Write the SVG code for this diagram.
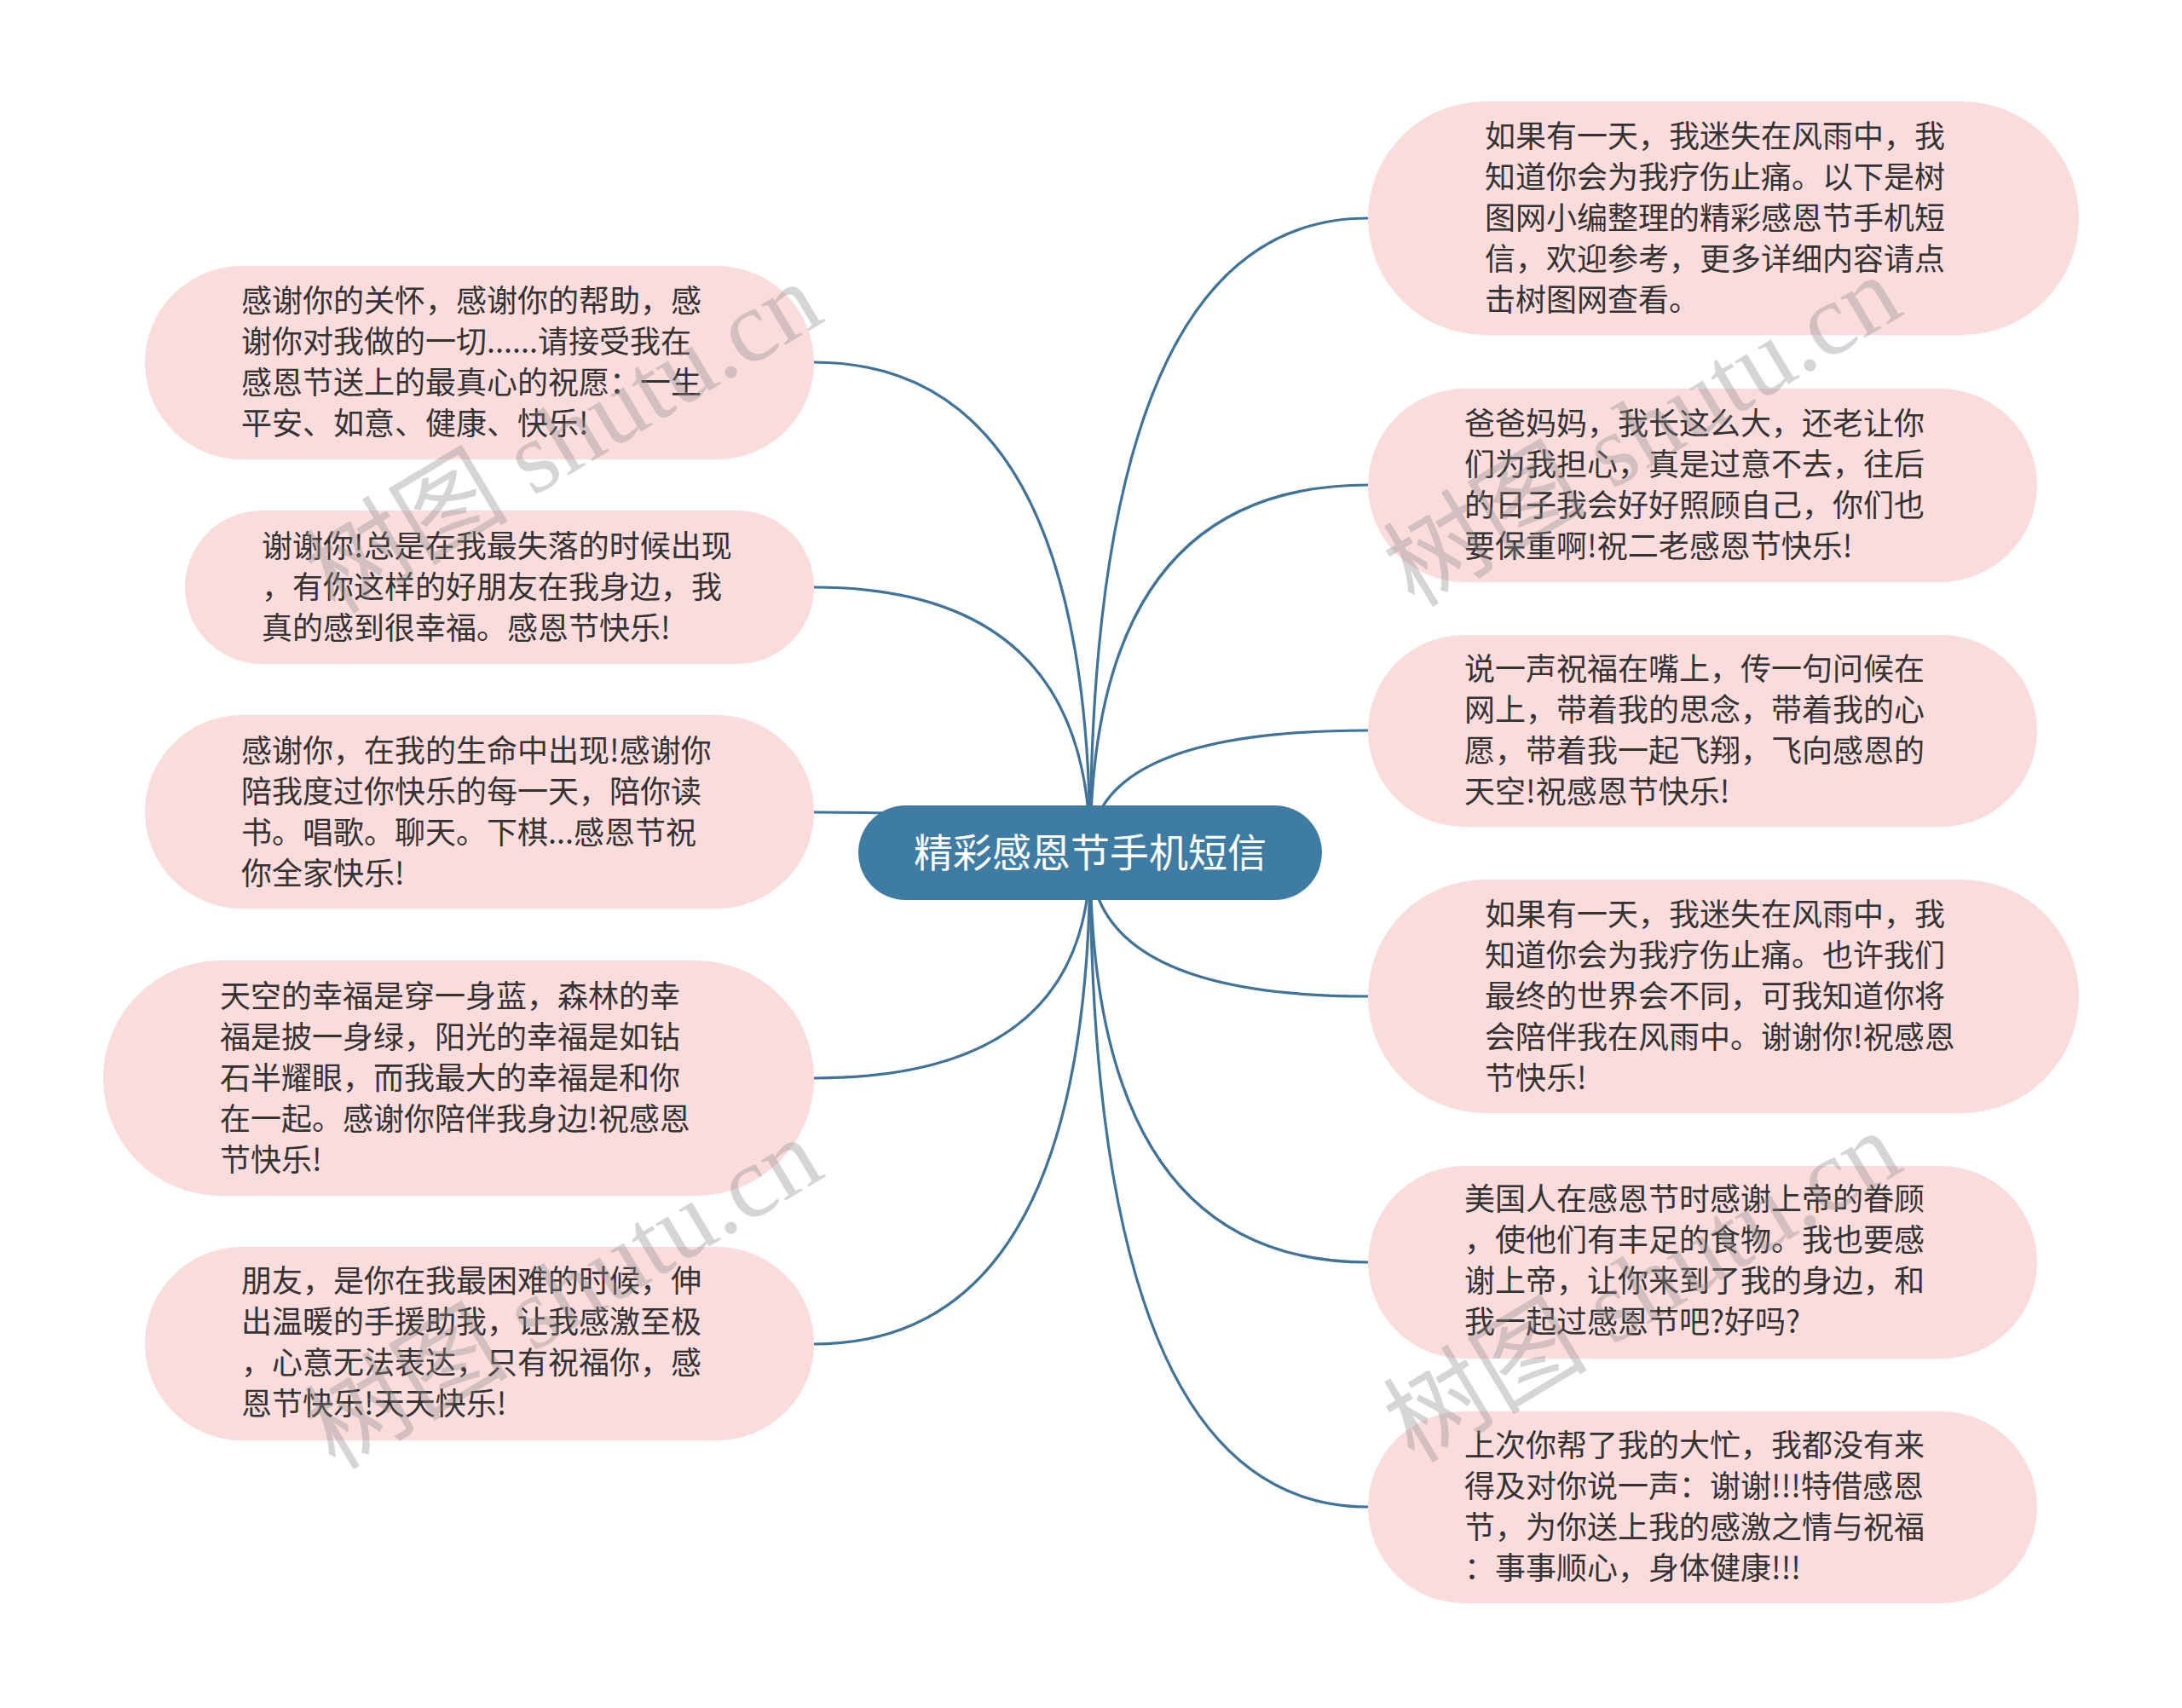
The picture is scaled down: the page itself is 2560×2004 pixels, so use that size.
<svg xmlns="http://www.w3.org/2000/svg" width="2560" height="2004" viewBox="0 0 2560 2004">
<style>
.bg{fill:#ffffff}
.node{fill:#fbdcdc}
.root{fill:#3f7ca3}
.t{font-family:"Noto Sans CJK SC","Noto Sans",sans-serif;font-size:36px;fill:#333333}
.rt{font-family:"Noto Sans CJK SC","Noto Sans",sans-serif;font-size:46px;fill:#ffffff}
.c{fill:none;stroke:#3f7399;stroke-width:3.2}
.wm{font-family:"Liberation Serif","Noto Sans CJK SC",serif;font-size:120px;fill:#8a8a8a;opacity:0.35}
</style>
<rect class="bg" x="0" y="0" width="2560" height="2004"/>
<g id="connectors">
<path class="c" d="M1279,1001 Q1279,256 1605,256"/>
<path class="c" d="M1279,1001 Q1279,569 1605,569"/>
<path class="c" d="M1279,1001 Q1279,857 1605,857"/>
<path class="c" d="M1279,1001 Q1279,1169 1605,1169"/>
<path class="c" d="M1279,1001 Q1279,1481 1605,1481"/>
<path class="c" d="M1279,1001 Q1279,1768 1605,1768"/>
<path class="c" d="M1279,1001 Q1279,425 955,425"/>
<path class="c" d="M1279,1001 Q1279,689 955,689"/>
<path class="c" d="M1279,1001 Q1279,953 955,953"/>
<path class="c" d="M1279,1001 Q1279,1265 955,1265"/>
<path class="c" d="M1279,1001 Q1279,1577 955,1577"/>
</g>
<g id="root">
<rect class="root" x="1007" y="945" width="544" height="111" rx="55.5"/>
<text class="rt" x="1279" y="1017" text-anchor="middle">精彩感恩节手机短信</text>
</g>
<g id="r1">
<rect class="node" x="1605" y="119" width="834" height="274" rx="137"/>
<text class="t" y="173"><tspan x="1742">如果有一天，我迷失在风雨中，我</tspan><tspan x="1742" dy="48">知道你会为我疗伤止痛。以下是树</tspan><tspan x="1742" dy="48">图网小编整理的精彩感恩节手机短</tspan><tspan x="1742" dy="48">信，欢迎参考，更多详细内容请点</tspan><tspan x="1742" dy="48">击树图网查看。</tspan></text>
</g>
<g id="r2">
<rect class="node" x="1605" y="456" width="785" height="227" rx="113.5"/>
<text class="t" y="510"><tspan x="1718">爸爸妈妈，我长这么大，还老让你</tspan><tspan x="1718" dy="48">们为我担心，真是过意不去，往后</tspan><tspan x="1718" dy="48">的日子我会好好照顾自己，你们也</tspan><tspan x="1718" dy="48">要保重啊!祝二老感恩节快乐!</tspan></text>
</g>
<g id="r3">
<rect class="node" x="1605" y="745" width="785" height="225" rx="112.5"/>
<text class="t" y="798"><tspan x="1718">说一声祝福在嘴上，传一句问候在</tspan><tspan x="1718" dy="48">网上，带着我的思念，带着我的心</tspan><tspan x="1718" dy="48">愿，带着我一起飞翔，飞向感恩的</tspan><tspan x="1718" dy="48">天空!祝感恩节快乐!</tspan></text>
</g>
<g id="r4">
<rect class="node" x="1605" y="1032" width="834" height="274" rx="137"/>
<text class="t" y="1086"><tspan x="1742">如果有一天，我迷失在风雨中，我</tspan><tspan x="1742" dy="48">知道你会为我疗伤止痛。也许我们</tspan><tspan x="1742" dy="48">最终的世界会不同，可我知道你将</tspan><tspan x="1742" dy="48">会陪伴我在风雨中。谢谢你!祝感恩</tspan><tspan x="1742" dy="48">节快乐!</tspan></text>
</g>
<g id="r5">
<rect class="node" x="1605" y="1368" width="785" height="226" rx="113"/>
<text class="t" y="1420"><tspan x="1718">美国人在感恩节时感谢上帝的眷顾</tspan><tspan x="1718" dy="48">，使他们有丰足的食物。我也要感</tspan><tspan x="1718" dy="48">谢上帝，让你来到了我的身边，和</tspan><tspan x="1718" dy="48">我一起过感恩节吧?好吗?</tspan></text>
</g>
<g id="r6">
<rect class="node" x="1605" y="1656" width="785" height="225" rx="112.5"/>
<text class="t" y="1709"><tspan x="1718">上次你帮了我的大忙，我都没有来</tspan><tspan x="1718" dy="48">得及对你说一声：谢谢!!!特借感恩</tspan><tspan x="1718" dy="48">节，为你送上我的感激之情与祝福</tspan><tspan x="1718" dy="48">：事事顺心，身体健康!!!</tspan></text>
</g>
<g id="l1">
<rect class="node" x="170" y="312" width="785" height="227" rx="113.5"/>
<text class="t" y="366"><tspan x="283">感谢你的关怀，感谢你的帮助，感</tspan><tspan x="283" dy="48">谢你对我做的一切......请接受我在</tspan><tspan x="283" dy="48">感恩节送上的最真心的祝愿：一生</tspan><tspan x="283" dy="48">平安、如意、健康、快乐!</tspan></text>
</g>
<g id="l2">
<rect class="node" x="217" y="599" width="738" height="180" rx="90"/>
<text class="t" y="654"><tspan x="307">谢谢你!总是在我最失落的时候出现</tspan><tspan x="307" dy="48">，有你这样的好朋友在我身边，我</tspan><tspan x="307" dy="48">真的感到很幸福。感恩节快乐!</tspan></text>
</g>
<g id="l3">
<rect class="node" x="170" y="839" width="785" height="227" rx="113.5"/>
<text class="t" y="894"><tspan x="283">感谢你，在我的生命中出现!感谢你</tspan><tspan x="283" dy="48">陪我度过你快乐的每一天，陪你读</tspan><tspan x="283" dy="48">书。唱歌。聊天。下棋...感恩节祝</tspan><tspan x="283" dy="48">你全家快乐!</tspan></text>
</g>
<g id="l4">
<rect class="node" x="121" y="1127" width="834" height="276" rx="138"/>
<text class="t" y="1182"><tspan x="258">天空的幸福是穿一身蓝，森林的幸</tspan><tspan x="258" dy="48">福是披一身绿，阳光的幸福是如钻</tspan><tspan x="258" dy="48">石半耀眼，而我最大的幸福是和你</tspan><tspan x="258" dy="48">在一起。感谢你陪伴我身边!祝感恩</tspan><tspan x="258" dy="48">节快乐!</tspan></text>
</g>
<g id="l5">
<rect class="node" x="170" y="1463" width="785" height="227" rx="113.5"/>
<text class="t" y="1516"><tspan x="283">朋友，是你在我最困难的时候，伸</tspan><tspan x="283" dy="48">出温暖的手援助我，让我感激至极</tspan><tspan x="283" dy="48">，心意无法表达，只有祝福你，感</tspan><tspan x="283" dy="48">恩节快乐!天天快乐!</tspan></text>
</g>
<g id="watermarks">
<text class="wm" x="661" y="514" text-anchor="middle" dominant-baseline="central" transform="rotate(-31 661 514)">树图 shutu.cn</text>
<text class="wm" x="1927" y="506" text-anchor="middle" dominant-baseline="central" transform="rotate(-31 1927 506)">树图 shutu.cn</text>
<text class="wm" x="661" y="1518" text-anchor="middle" dominant-baseline="central" transform="rotate(-31 661 1518)">树图 shutu.cn</text>
<text class="wm" x="1927" y="1510" text-anchor="middle" dominant-baseline="central" transform="rotate(-31 1927 1510)">树图 shutu.cn</text>
</g>
</svg>
